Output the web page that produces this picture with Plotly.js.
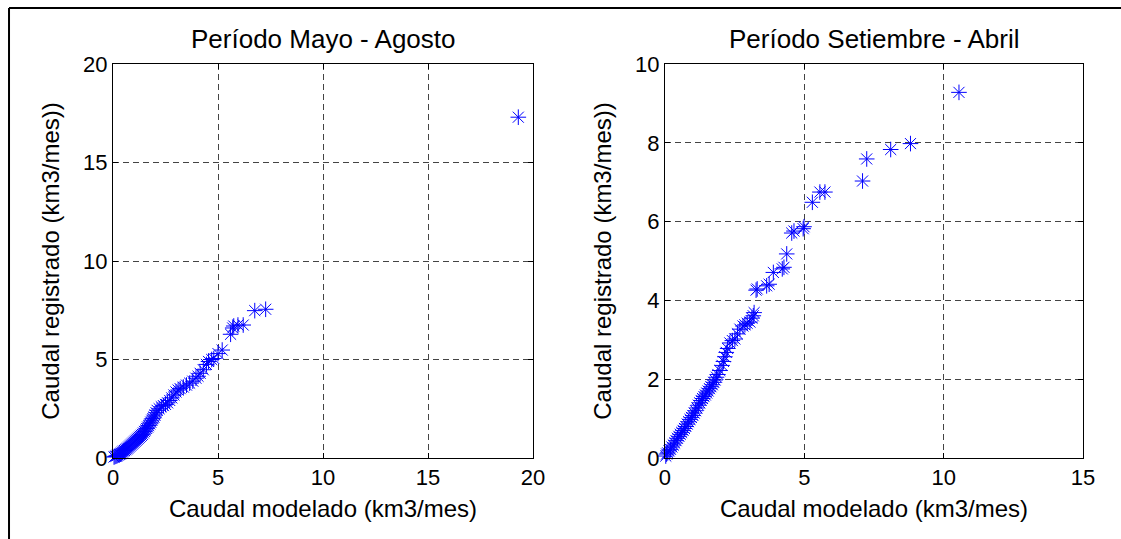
<!DOCTYPE html>
<html>
<head>
<meta charset="utf-8">
<script src="https://cdn.plot.ly/plotly-3.0.1.min.js"></script>
<style>
  html, body { margin: 0; padding: 0; background: #fff; overflow: hidden; }
  #chart { width: 1121px; height: 539px; }
</style>
</head>
<body>
<div id="chart"></div>
<script>
// Período Mayo - Agosto: caudal modelado (x) vs registrado (y), km3/mes
const mayoAgosto_modelado = [
  0.05,0.1,0.15,0.2,0.25,0.3,0.35,0.4,0.45,0.5,0.55,0.6,0.65,0.7,0.75,0.8,0.85,0.9,0.95,1.0,
  1.05,1.1,1.15,1.2,1.25,1.3,1.35,1.4,1.45,1.5,1.55,1.6,1.65,1.7,1.75,1.8,1.85,1.9,1.95,2.0,
  2.05,2.1,2.2,2.3,2.4,2.5,2.6,2.7,2.8,2.9,3.0,3.1,3.2,3.35,3.5,3.65,3.8,3.95,4.05,4.15,
  4.3,4.45,4.55,4.7,4.8,5.0,5.2,5.6,5.7,5.75,5.95,6.2,6.75,7.27,19.3
];
const mayoAgosto_registrado = [
  0.05,0.08,0.1,0.12,0.15,0.18,0.2,0.25,0.3,0.35,0.38,0.42,0.46,0.5,0.55,0.6,0.65,0.7,0.75,0.8,
  0.85,0.9,0.95,1.0,1.05,1.1,1.15,1.2,1.27,1.35,1.42,1.5,1.57,1.65,1.73,1.82,1.92,2.0,2.08,2.18,
  2.3,2.42,2.5,2.6,2.66,2.72,2.8,2.92,3.05,3.2,3.35,3.45,3.52,3.6,3.7,3.8,3.9,4.05,4.15,4.3,
  4.48,4.75,4.9,5.0,5.05,5.3,5.48,6.28,6.6,6.7,6.75,6.75,7.48,7.55,17.3
];

// Período Setiembre - Abril
const setiembreAbril_modelado = [
  0.03,0.06,0.1,0.15,0.2,0.25,0.3,0.35,0.4,0.45,0.5,0.55,0.6,0.65,0.7,0.75,0.8,0.85,0.9,0.95,
  1.0,1.05,1.1,1.15,1.2,1.25,1.3,1.35,1.4,1.45,1.5,1.55,1.6,1.65,1.7,1.75,1.8,1.85,1.9,1.97,
  2.05,2.1,2.15,2.2,2.25,2.33,2.42,2.51,2.6,2.69,2.8,2.87,2.95,3.05,3.12,3.17,3.2,3.27,3.31,3.65,
  3.74,3.89,4.21,4.27,4.37,4.55,4.63,4.96,4.99,5.29,5.56,5.74,7.09,7.24,8.1,8.81,10.55
];
const setiembreAbril_registrado = [
  0.05,0.1,0.13,0.18,0.22,0.28,0.33,0.38,0.44,0.5,0.55,0.6,0.65,0.7,0.75,0.8,0.86,0.92,0.98,1.03,
  1.08,1.14,1.2,1.27,1.34,1.4,1.46,1.51,1.56,1.6,1.65,1.7,1.76,1.81,1.86,1.92,1.98,2.05,2.12,2.22,
  2.35,2.45,2.57,2.68,2.78,2.92,2.98,3.02,3.15,3.27,3.35,3.38,3.42,3.45,3.55,3.61,3.69,4.26,4.29,4.37,
  4.41,4.71,4.8,4.84,5.18,5.71,5.76,5.82,5.87,6.49,6.75,6.75,7.03,7.59,7.83,7.98,9.28
];

const ticksLeftX = [0,5,10,15,20];
const ticksLeftY = [0,5,10,15,20];
const ticksRightX = [0,5,10,15];
const ticksRightY = [0,2,4,6,8,10];

const FONT = '"Liberation Sans", Arial, Helvetica, sans-serif';

const marker = {symbol: 'asterisk-open', size: 13, color: '#0000ff', line: {color: '#0000ff', width: 1}};

const traces = [
  {x: mayoAgosto_modelado, y: mayoAgosto_registrado, type: 'scatter', mode: 'markers',
   xaxis: 'x', yaxis: 'y', marker: marker, cliponaxis: false, showlegend: false},
  {x: setiembreAbril_modelado, y: setiembreAbril_registrado, type: 'scatter', mode: 'markers',
   xaxis: 'x2', yaxis: 'y2', marker: marker, cliponaxis: false, showlegend: false}
];

function axis(extra) {
  return Object.assign({
    showline: true, linecolor: '#000', linewidth: 1, mirror: 'ticks',
    ticks: 'inside', ticklen: 5, tickcolor: '#000', tickwidth: 1,
    showgrid: true, gridcolor: '#444', gridwidth: 1, griddash: '6px,4px',
    zeroline: false, tickmode: 'array',
    tickfont: {family: FONT, size: 22, color: '#000'},
    automargin: false
  }, extra);
}

const titleFont = {family: FONT, size: 24, color: '#000'};

const layout = {
  width: 1121, height: 539,
  margin: {l: 113, r: 38, t: 64, b: 81},
  paper_bgcolor: '#fff', plot_bgcolor: '#fff',
  font: {family: FONT, color: '#000'},
  xaxis: axis({domain: [0, 0.433], range: [0, 20], tickvals: ticksLeftX, anchor: 'y',
    title: {text: 'Caudal modelado (km3/mes)', font: titleFont, standoff: 10}}),
  yaxis: axis({domain: [0, 1], range: [0, 20], tickvals: ticksLeftY, anchor: 'x',
    title: {text: 'Caudal registrado (km3/mes))', font: titleFont, standoff: 16}}),
  xaxis2: axis({domain: [0.569, 1], range: [0, 15], tickvals: ticksRightX, anchor: 'y2',
    title: {text: 'Caudal modelado (km3/mes)', font: titleFont, standoff: 10}}),
  yaxis2: axis({domain: [0, 1], range: [0, 10], tickvals: ticksRightY, anchor: 'x2',
    title: {text: 'Caudal registrado (km3/mes))', font: titleFont, standoff: 16}}),
  annotations: [
    {text: 'Período Mayo - Agosto', xref: 'paper', yref: 'paper', x: 0.2165, y: 1.0635,
     xanchor: 'center', yanchor: 'middle', showarrow: false, font: {family: FONT, size: 26, color: '#000'}},
    {text: 'Período Setiembre - Abril', xref: 'paper', yref: 'paper', x: 0.7845, y: 1.0635,
     xanchor: 'center', yanchor: 'middle', showarrow: false, font: {family: FONT, size: 26, color: '#000'}}
  ],
  shapes: [
    {type: 'line', xref: 'paper', yref: 'paper', x0: -0.1072, x1: -0.1072, y0: -0.6, y1: 1.1421,
     line: {color: '#000', width: 2}},
    {type: 'line', xref: 'paper', yref: 'paper', x0: -0.1072, x1: 1.5, y0: 1.1421, y1: 1.1421,
     line: {color: '#000', width: 2}}
  ]
};

Plotly.newPlot('chart', traces, layout, {displayModeBar: false, staticPlot: true});
</script>
</body>
</html>
